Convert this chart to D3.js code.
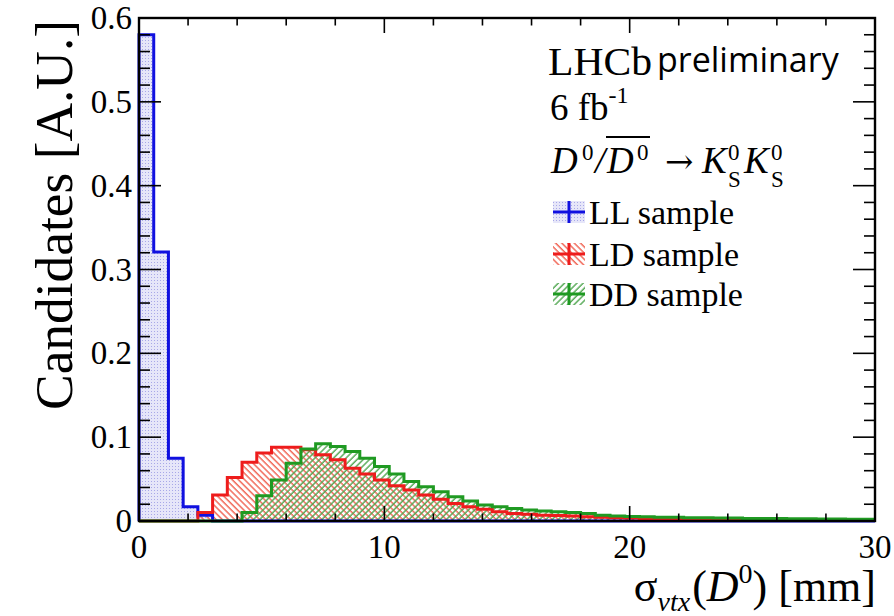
<!DOCTYPE html>
<html>
<head>
<meta charset="utf-8">
<script src="https://cdn.jsdelivr.net/npm/d3@7"></script>
<style>
  html, body { margin: 0; padding: 0; background: #fff; }
  svg { display: block; }
  text { font-family: "Liberation Serif", "Times New Roman", serif; fill: #000; }
</style>
</head>
<body>
<svg id="chart" width="894" height="616"></svg>
<script>
// Vertex-resolution distributions, normalised, 0.6 mm bins from 0 to 30 mm
const binWidth = 0.6;
const xDomain = [0, 30];
const yDomain = [0, 0.6];

const llValues = [0.580, 0.321, 0.075, 0.017, 0.007, 0, 0, 0, 0, 0,
                  0, 0, 0, 0, 0, 0, 0, 0, 0, 0,
                  0, 0, 0, 0, 0, 0, 0, 0, 0, 0,
                  0, 0, 0, 0, 0, 0, 0, 0, 0, 0,
                  0, 0, 0, 0, 0, 0, 0, 0, 0, 0];
const ldValues = [0, 0, 0, 0, 0.010, 0.031, 0.052, 0.070, 0.081, 0.088,
                  0.088, 0.085, 0.079, 0.073, 0.063, 0.056, 0.049, 0.042, 0.037, 0.031,
                  0.026, 0.021, 0.017, 0.014, 0.011, 0.009, 0.008, 0.007, 0.0065, 0.006,
                  0.005, 0.0045, 0.004, 0.0035, 0.003, 0.0025, 0.002, 0.002, 0.0018, 0.0015,
                  0.0013, 0.0012, 0.001, 0.001, 0.0009, 0.0008, 0.0007, 0.0006, 0.0005, 0.0005];
const ddValues = [0, 0, 0, 0, 0, 0, 0, 0.010, 0.030, 0.049,
                  0.069, 0.086, 0.092, 0.089, 0.083, 0.075, 0.065, 0.056, 0.047, 0.041,
                  0.035, 0.029, 0.024, 0.019, 0.017, 0.015, 0.013, 0.012, 0.011, 0.010,
                  0.009, 0.007, 0.006, 0.0055, 0.005, 0.0045, 0.0045, 0.004, 0.004, 0.0035,
                  0.0035, 0.003, 0.003, 0.003, 0.0028, 0.0026, 0.0025, 0.0024, 0.0022, 0.002];

const xMajorTicks = [0, 10, 20, 30];
const xMinorTicks = d3.range(0, 30.001, 2);
const yMajorTicks = [0, 0.1, 0.2, 0.3, 0.4, 0.5, 0.6];
const yMinorTicks = d3.range(0, 0.6001, 0.02);

const samples = [
  { name: "LL sample", values: llValues, color: "#1010e0", fill: "url(#dotsLL)" },
  { name: "LD sample", values: ldValues, color: "#ee1c1c", fill: "url(#hatchLD)" },
  { name: "DD sample", values: ddValues, color: "#1f9a22", fill: "url(#hatchDD)" }
];

const svg = d3.select("#chart");
const plot = { left: 139, right: 875, top: 18, bottom: 521 };

const x = d3.scaleLinear().domain(xDomain).range([plot.left, plot.right]);
const y = d3.scaleLinear().domain(yDomain).range([plot.bottom, plot.top]);

svg.append("rect").attr("width", 894).attr("height", 616).attr("fill", "#fff");

// Fill patterns: stipple for LL, single hatching for LD and DD
const defs = svg.append("defs");
const dots = defs.append("pattern").attr("id", "dotsLL")
  .attr("patternUnits", "userSpaceOnUse").attr("width", 3).attr("height", 3);
dots.append("rect").attr("width", 3).attr("height", 3).attr("fill", "#e6e6f9");
dots.append("rect").attr("x", 1).attr("y", 1).attr("width", 1).attr("height", 1).attr("fill", "#a8a8e8");

function hatch(id, angle, color) {
  const p = defs.append("pattern").attr("id", id)
    .attr("patternUnits", "userSpaceOnUse").attr("width", 4.4).attr("height", 10)
    .attr("patternTransform", `rotate(${angle})`);
  p.append("line").attr("x1", 1).attr("x2", 1).attr("y1", 0).attr("y2", 10)
    .attr("stroke", color).attr("stroke-width", 1.4);
}
hatch("hatchLD", -45, "#f0604e");
hatch("hatchDD", 45, "#4fa64f");

// Histogram bins as step points (low edge, content), closed at the upper edge
function stepPoints(values) {
  const pts = values.map((v, i) => [i * binWidth, v]);
  pts.push([values.length * binWidth, values[values.length - 1]]);
  return pts;
}

const area = d3.area().curve(d3.curveStepAfter)
  .x(d => x(d[0])).y0(y(0)).y1(d => y(d[1]));
const line = d3.line().curve(d3.curveStepAfter)
  .x(d => x(d[0])).y(d => y(d[1]));

const g = svg.append("g");
samples.forEach(s => {
  g.append("path").attr("d", area(stepPoints(s.values))).attr("fill", s.fill);
});
samples.forEach(s => {
  const pts = [[0, 0]].concat(stepPoints(s.values));
  g.append("path").attr("d", line(pts))
    .attr("fill", "none").attr("stroke", s.color).attr("stroke-width", 3)
    .attr("stroke-linejoin", "miter");
});

// Frame and ticks on all four sides
const axes = svg.append("g").attr("stroke", "#000").attr("fill", "none");
axes.append("rect")
  .attr("x", plot.left).attr("y", plot.top)
  .attr("width", plot.right - plot.left).attr("height", plot.bottom - plot.top)
  .attr("stroke-width", 2.4);

const xMajLen = 15, xMinLen = 7.5, yMajLen = 22, yMinLen = 11;
xMinorTicks.forEach(t => {
  const len = xMajorTicks.some(m => Math.abs(m - t) < 1e-6) ? xMajLen : xMinLen;
  axes.append("line").attr("x1", x(t)).attr("x2", x(t))
    .attr("y1", plot.bottom).attr("y2", plot.bottom - len).attr("stroke-width", 1.6);
  axes.append("line").attr("x1", x(t)).attr("x2", x(t))
    .attr("y1", plot.top).attr("y2", plot.top + len).attr("stroke-width", 1.6);
});
yMinorTicks.forEach(t => {
  const len = yMajorTicks.some(m => Math.abs(m - t) < 1e-6) ? yMajLen : yMinLen;
  axes.append("line").attr("x1", plot.left).attr("x2", plot.left + len)
    .attr("y1", y(t)).attr("y2", y(t)).attr("stroke-width", 1.6);
  axes.append("line").attr("x1", plot.right).attr("x2", plot.right - len)
    .attr("y1", y(t)).attr("y2", y(t)).attr("stroke-width", 1.6);
});

// Tick labels
const labels = svg.append("g").attr("font-size", 33);
xMajorTicks.forEach(t => {
  labels.append("text").attr("x", x(t)).attr("y", 558)
    .attr("text-anchor", "middle").text(d3.format("d")(t));
});
yMajorTicks.forEach(t => {
  labels.append("text").attr("x", 132).attr("y", y(t) + 11)
    .attr("text-anchor", "end").text(t === 0 ? "0" : d3.format(".1f")(t));
});

// Axis titles
svg.append("text")
  .attr("transform", `translate(72,20) rotate(-90)`)
  .attr("text-anchor", "end").attr("font-size", 52)
  .attr("textLength", 390).attr("lengthAdjust", "spacingAndGlyphs")
  .text("Candidates [A.U.]");

const xt = svg.append("text").attr("x", 876).attr("y", 601)
  .attr("text-anchor", "end").attr("font-size", 44);
xt.append("tspan").text("σ");
xt.append("tspan").attr("font-size", 28).attr("font-style", "italic").attr("dy", 10).text("vtx");
xt.append("tspan").attr("dy", -10).attr("dx", 2).text("(");
xt.append("tspan").attr("font-style", "italic").text("D");
xt.append("tspan").attr("font-size", 28).attr("dy", -18).text("0");
xt.append("tspan").attr("dy", 18).text(") [mm]");

// Annotation block
const ann = svg.append("g");
ann.append("text").attr("x", 548).attr("y", 75).attr("font-size", 40)
  .attr("textLength", 104).attr("lengthAdjust", "spacingAndGlyphs").text("LHCb");
ann.append("text").attr("x", 657).attr("y", 72).attr("font-size", 34)
  .style("font-family", "'Open Sans', 'Noto Sans', sans-serif").text("preliminary");

const lumi = ann.append("text").attr("x", 550).attr("y", 120).attr("font-size", 37);
lumi.append("tspan").text("6 fb");
lumi.append("tspan").attr("font-size", 24).attr("dy", -17).text("-1");

// Decay label D0/D0bar -> KS0 KS0
const decay = ann.append("g").attr("font-size", 37);
function put(txt, px, py, opts = {}) {
  const t = decay.append("text").attr("x", px).attr("y", py).text(txt);
  if (opts.italic) t.attr("font-style", "italic");
  if (opts.size) t.attr("font-size", opts.size);
  if (opts.family) t.style("font-family", opts.family);
  return t;
}
put("D", 551, 173, { italic: true });
put("0", 582, 160, { size: 23 });
put("/", 595, 173, { italic: true });
put("D", 607, 173, { italic: true });
put("0", 637, 160, { size: 23 });
decay.append("line").attr("x1", 606).attr("x2", 650).attr("y1", 137).attr("y2", 137)
  .attr("stroke", "#000").attr("stroke-width", 1.8);
put("→", 665, 173, { size: 34, family: "'DejaVu Serif', serif" });
put("K", 702, 173, { italic: true });
put("0", 728, 160, { size: 23 });
put("S", 728, 187, { size: 23 });
put("K", 744, 173, { italic: true });
put("0", 771, 160, { size: 23 });
put("S", 771, 187, { size: 23 });

// Legend
const legendRows = [212, 254, 294];
samples.forEach((s, i) => {
  const cy = legendRows[i];
  const lg = svg.append("g");
  lg.append("rect").attr("x", 553).attr("y", cy - 11).attr("width", 32).attr("height", 22)
    .attr("fill", s.fill);
  lg.append("line").attr("x1", 553).attr("x2", 585).attr("y1", cy).attr("y2", cy)
    .attr("stroke", s.color).attr("stroke-width", 3);
  lg.append("line").attr("x1", 569).attr("x2", 569).attr("y1", cy - 11).attr("y2", cy + 11)
    .attr("stroke", s.color).attr("stroke-width", 3);
  lg.append("text").attr("x", 589).attr("y", cy + 12).attr("font-size", 34).text(s.name);
});
</script>
</body>
</html>
